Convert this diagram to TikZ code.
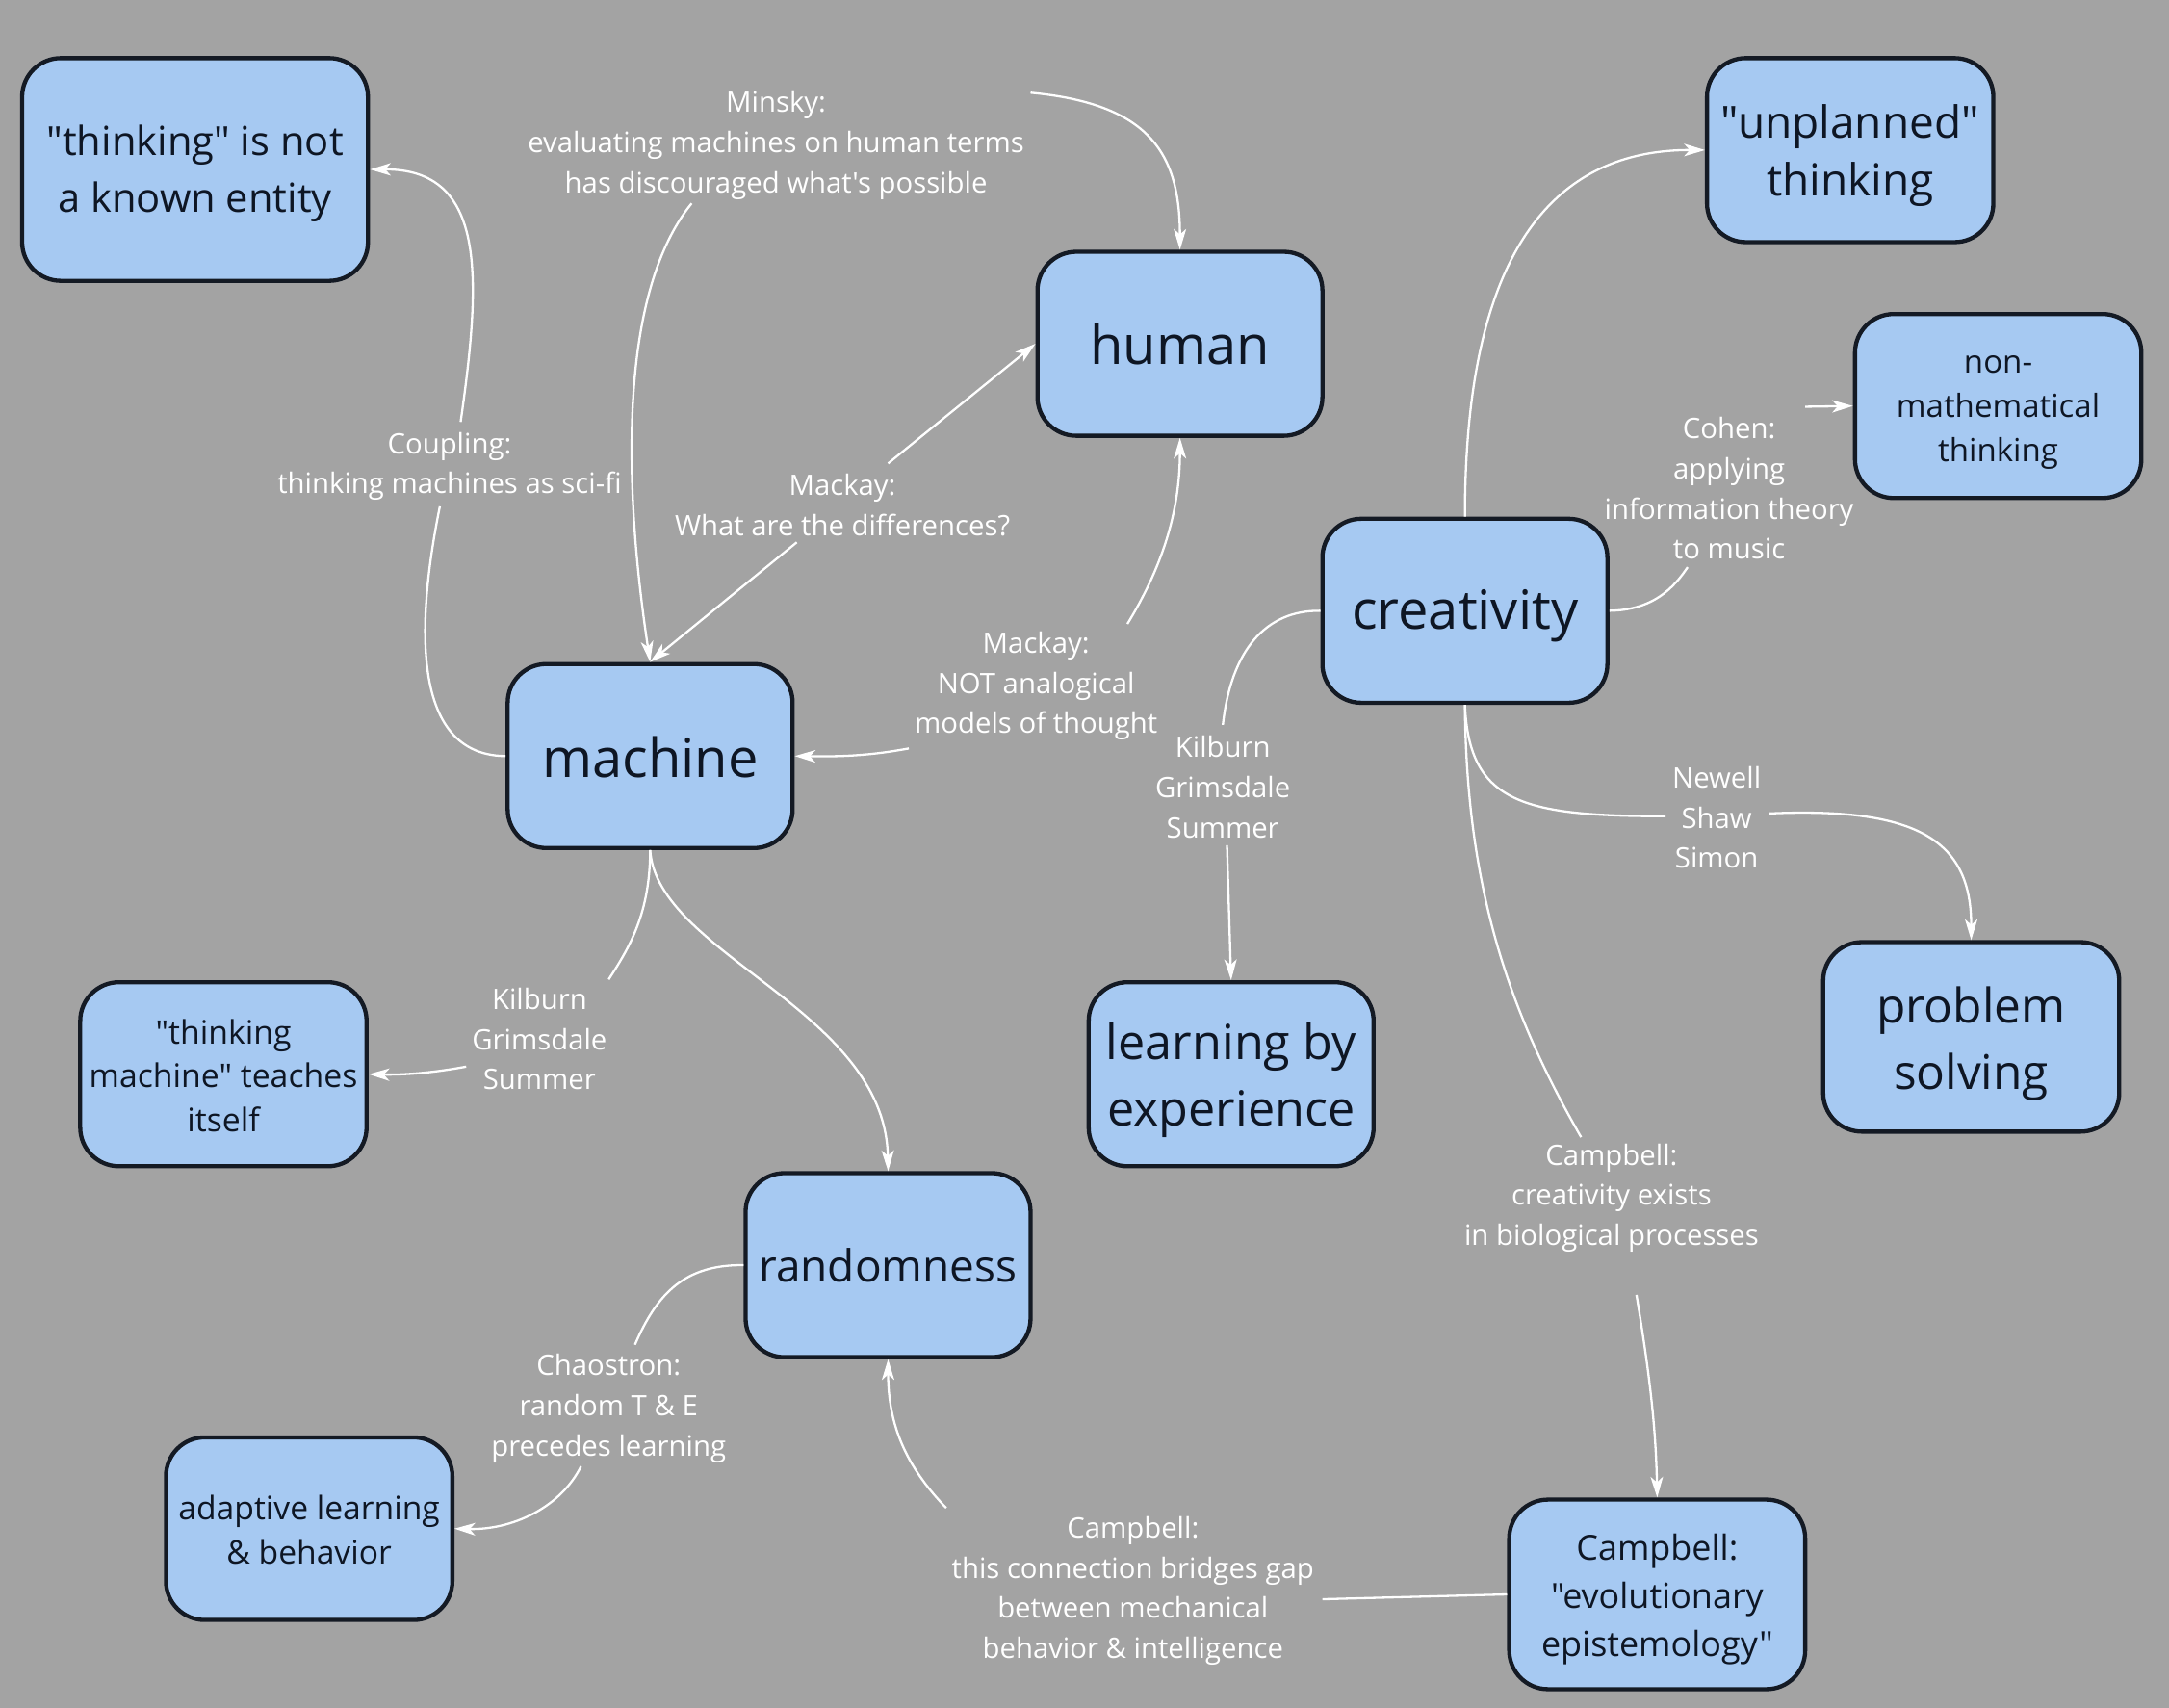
\documentclass[tikz,border=0pt]{standalone}
\usepackage{fontspec}
\setmainfont{Open Sans}[Ligatures=TeXOff]
\usetikzlibrary{arrows.meta}
\definecolor{bg}{HTML}{A3A3A3}
\definecolor{boxfill}{HTML}{A6C9F2}
\definecolor{boxline}{HTML}{141A24}
\definecolor{boxtext}{HTML}{0E1624}
\newcommand\fsz[2]{\fontsize{#1}{#2}\selectfont}
\tikzset{
  box/.style={draw=boxline, line width=3pt, fill=boxfill, rounded corners=28pt, inner sep=0pt},
  btxt/.style={align=center, text=boxtext, inner sep=0pt},
  lab/.style={text=white, align=center, inner sep=0pt, font=\fsz{20.4}{29}},
  conn/.style={draw=white, line width=1.6pt},
  arr/.style={conn, -{Stealth[length=15pt,width=9pt,inset=4pt]}},
}
\begin{document}
\begin{tikzpicture}[x=1pt,y=-1pt]
\fill[bg] (0,0) rectangle (1568,1234.6);
\useasboundingbox (0,0) rectangle (1568,1234.6);

% concept boxes
\node[box, minimum width=250pt, minimum height=161pt] (think) at (141,122.5) {};
\node[box, minimum width=206pt, minimum height=133pt] (human) at (853,248.5) {};
\node[box, minimum width=207pt, minimum height=133pt] (unplanned) at (1337.5,108.5) {};
\node[box, minimum width=207pt, minimum height=133pt] (nonmath) at (1444.5,293.5) {};
\node[box, minimum width=206pt, minimum height=133pt] (creativity) at (1059,441.5) {};
\node[box, minimum width=206pt, minimum height=133pt] (machine) at (470,546.5) {};
\node[box, minimum width=207pt, minimum height=133pt] (teaches) at (161.5,776.5) {};
\node[box, minimum width=206pt, minimum height=133pt] (learning) at (890,776.5) {};
\node[box, minimum width=214pt, minimum height=137pt] (problem) at (1425,749.5) {};
\node[box, minimum width=206pt, minimum height=133pt] (randomness) at (642,914.5) {};
\node[box, minimum width=207pt, minimum height=132pt] (adaptive) at (223.5,1105) {};
\node[box, minimum width=214pt, minimum height=137pt] (campbell) at (1198,1152.5) {};

% box texts
\node[btxt, font=\fsz{29}{41}] (thinkT) at ([yshift=-3pt]think.center) {"thinking" is not\\a known entity};
\node[btxt, font=\fsz{39}{52}] (humanT) at (human.center) {human};
\node[btxt, font=\fsz{32}{42}] (unplannedT) at ([yshift=-4pt]unplanned.center) {"unplanned"\\thinking};
\node[btxt, font=\fsz{23}{32}] (nonmathT) at ([yshift=-5pt]nonmath.center) {non-\\mathematical\\thinking};
\node[btxt, font=\fsz{39}{52}] (creativityT) at ([yshift=-4pt]creativity.center) {creativity};
\node[btxt, font=\fsz{39}{52}] (machineT) at ([yshift=-1pt]machine.center) {machine};
\node[btxt, font=\fsz{23.5}{31.5}] (teachesT) at ([yshift=-1pt]teaches.center) {"thinking\\machine" teaches\\itself};
\node[btxt, font=\fsz{35}{48}] (learningT) at ([yshift=-4pt]learning.center) {learning by\\experience};
\node[btxt, font=\fsz{34.5}{48}] (problemT) at ([yshift=-5pt]problem.center) {problem\\solving};
\node[btxt, font=\fsz{32}{42}] (randomnessT) at (randomness.center) {randomness};
\node[btxt, font=\fsz{23.4}{32}] (adaptiveT) at ([yshift=-1pt]adaptive.center) {adaptive learning\\\& behavior};
\node[btxt, font=\fsz{25}{35}] (campbellT) at ([yshift=-3.5pt]campbell.center) {Campbell:\\"evolutionary\\epistemology"};

% linking labels
\node[lab] (Lcoup) at (325,337) {Coupling:\\thinking machines as sci-fi};
\node[lab] (Lminsky) at (561,105) {Minsky:\\evaluating machines on human terms\\has discouraged what's possible};
\node[lab] (Lmack1) at (609,365) {Mackay:\\What are the differences?};
\node[lab] (Lmack2) at (749,496) {Mackay:\\NOT analogical\\models of thought};
\node[lab] (Lkil1) at (390,751) {Kilburn\\Grimsdale\\Summer};
\node[lab] (Lchaos) at (440,1018) {Chaostron:\\random T \& E\\precedes learning};
\node[lab] (Lcamp1) at (819,1150) {Campbell:\\this connection bridges gap\\between mechanical\\behavior \& intelligence};
\node[lab] (Lcohen) at (1250,353) {Cohen:\\applying\\information theory\\to music};
\node[lab] (Lkil2) at (884,569) {Kilburn\\Grimsdale\\Summer};
\node[lab] (Lnewell) at (1241,591) {Newell\\Shaw\\Simon};
\node[lab] (Lcamp2) at (1165,866) {Campbell:\\creativity exists\\in biological processes};

% named free ends near labels
\coordinate (a1) at (318,366);
\coordinate (a2) at (333,305);
\coordinate (b0) at (745,67);
\coordinate (b1) at (500,147);
\coordinate (c1) at (642,335);
\coordinate (c2) at (576,392);
\coordinate (d1) at (815,451);
\coordinate (d2) at (657,541);
\coordinate (e1) at (440,708);
\coordinate (e2) at (337,771);
\coordinate (g1) at (459,972);
\coordinate (g2) at (420,1060);
\coordinate (h1) at (956,1156);
\coordinate (h2) at (684,1090);
\coordinate (j1) at (1220,410);
\coordinate (j2) at (1305,294);
\coordinate (k1) at (884,524);
\coordinate (k2) at (887,611);
\coordinate (l1) at (1204,590);
\coordinate (l2) at (1279,588);
\coordinate (m1) at (1143,822);
\coordinate (m2) at (1183,936);

% connectors
\draw[conn] (machine.west) .. controls (290,546) and (305,430) .. (a1);
\draw[arr] (a2) .. controls (348,200) and (352,122) .. (think.east);

\draw[arr] (b0) .. controls (830,75) and (853,110) .. (human.north);
\draw[arr] (b1) .. controls (445,215) and (452,360) .. (machine.north);

\draw[arr] (c1) -- (human.west);
\draw[arr] (c2) -- (machine.north);

\draw[arr] (d1) .. controls (840,410) and (853,370) .. (human.south);
\draw[arr] (d2) .. controls (630,546) and (610,547) .. (machine.east);

\draw[conn] (machine.south) .. controls (470,660) and (455,685) .. (e1);
\draw[arr] (e2) .. controls (310,776) and (290,777) .. (teaches.east);

\draw[arr] (machine.south) .. controls (475,690) and (640,730) .. (randomness.north);

\draw[conn] (randomness.west) .. controls (495,914) and (475,935) .. (g1);
\draw[arr] (g2) .. controls (405,1090) and (370,1106) .. (adaptive.east);

\draw[conn] (campbell.west) -- (h1);
\draw[arr] (h2) .. controls (655,1060) and (642,1030) .. (randomness.south);

\draw[arr] (creativity.north) .. controls (1059,250) and (1085,108) .. (unplanned.west);

\draw[conn] (creativity.east) .. controls (1195,441) and (1210,425) .. (j1);
\draw[arr] (j2) -- (nonmath.west);

\draw[conn] (creativity.west) .. controls (915,441) and (890,470) .. (k1);
\draw[arr] (k2) -- (learning.north);

\draw[conn] (creativity.south) .. controls (1062,580) and (1100,590) .. (l1);
\draw[arr] (l2) .. controls (1390,583) and (1425,610) .. (problem.north);

\draw[conn] (creativity.south) .. controls (1060,640) and (1090,730) .. (m1);
\draw[arr] (m2) .. controls (1192,990) and (1197,1030) .. (campbell.north);
\end{tikzpicture}
\end{document}
